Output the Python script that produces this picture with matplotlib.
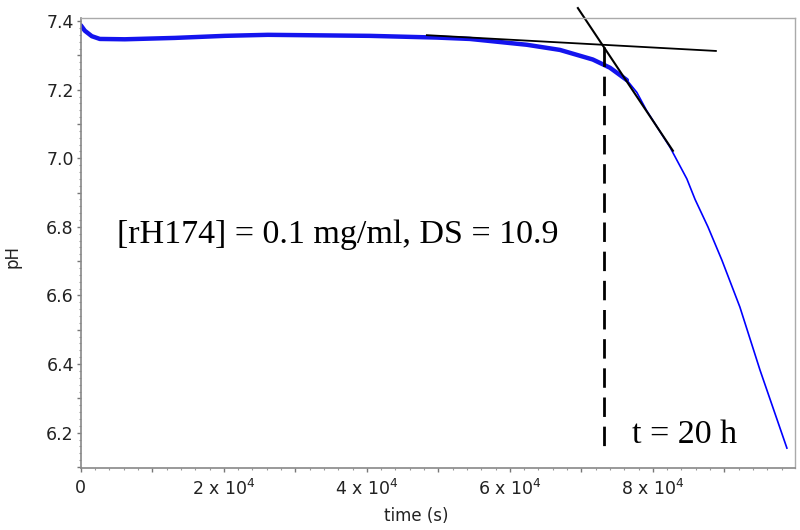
import matplotlib
matplotlib.use('Agg')
import matplotlib.pyplot as plt
from matplotlib.ticker import MultipleLocator, FuncFormatter

# pH trace (time in s)
time_s = [0, 560, 1540, 2660, 6150, 13150, 20140, 26150, 40420, 49790, 54400,
          62370, 67000, 71600, 74000, 76360, 77760, 79100, 82400, 84750,
          85900, 87700, 89650, 92170, 94970, 98740]
ph = [7.388, 7.372, 7.356, 7.348, 7.347, 7.351, 7.357, 7.360, 7.357, 7.352, 7.348,
      7.331, 7.316, 7.288, 7.264, 7.228, 7.192, 7.140, 7.032, 6.940,
      6.880, 6.800, 6.703, 6.566, 6.383, 6.155]

# tangent lines and the onset marker
flat_t = [48390, 88810]
flat_ph = [7.359, 7.313]
steep_t = [69510, 82800]
steep_ph = [7.438, 7.022]
onset_t = [73150, 73150]
onset_ph = [7.324, 6.149]

label_main = '[rH174] = 0.1 mg/ml, DS = 10.9'
label_onset = 't = 20 h'

fig = plt.figure(figsize=(8, 5.3), dpi=100)
ax = fig.add_axes([0.101, 0.117, 0.893, 0.849])

# noisy early part drawn thicker, the steep tail thin
n_noisy = time_s.index(76360) + 1
ax.plot(time_s, ph, color='#0000ff', lw=1.2)
ax.plot(time_s[:n_noisy], ph[:n_noisy], color='#1414ee', lw=3.2, solid_capstyle='round')

ax.plot(flat_t, flat_ph, color='black', lw=1.3)
ax.plot(steep_t, steep_ph, color='black', lw=1.5, clip_on=False)
ax.plot(onset_t, onset_ph, color='black', lw=2.0, dashes=(7, 3.5))

ax.text(5030, 6.753, label_main, family='Liberation Serif', fontsize=24.5,
        va='baseline', ha='left')
ax.text(77060, 6.170, label_onset, family='Liberation Serif', fontsize=24.5,
        va='baseline', ha='left')

ax.set_xlim(0, 99900)
ax.set_ylim(6.097, 7.409)

ax.xaxis.set_major_locator(MultipleLocator(1e4))
ax.xaxis.set_minor_locator(MultipleLocator(2000))
ax.yaxis.set_major_locator(MultipleLocator(0.1))
ax.yaxis.set_minor_locator(MultipleLocator(0.02))


def xfmt(v, pos):
    k = int(round(v / 1e4))
    if k == 0:
        return '0'
    if k % 2:
        return ''
    return '{} x 10$^4$'.format(k)


def yfmt(v, pos):
    k = int(round(v * 10))
    if k % 2:
        return ''
    return '{:.1f}'.format(v)


ax.xaxis.set_major_formatter(FuncFormatter(xfmt))
ax.yaxis.set_major_formatter(FuncFormatter(yfmt))

ax.tick_params(which='major', length=3, width=1, color='#777777', labelsize=12.5,
               labelcolor='#222222')
ax.tick_params(axis='x', which='major', pad=5)
ax.tick_params(axis='y', which='major', pad=2)
ax.tick_params(which='minor', length=1.5, width=0.8, color='#999999')

for side in ['left', 'bottom']:
    ax.spines[side].set_color('#888888')
    ax.spines[side].set_linewidth(1.2)
for side in ['top', 'right']:
    ax.spines[side].set_color('#aaaaaa')
    ax.spines[side].set_linewidth(1.0)

ax.set_xlabel('time (s)', fontsize=12, color='#222222')
ax.set_ylabel('pH', fontsize=12, color='#222222')
ax.xaxis.set_label_coords(0.469, -0.087)
ax.yaxis.set_label_coords(-0.083, 0.469)

fig.savefig('out.png', dpi=100)
